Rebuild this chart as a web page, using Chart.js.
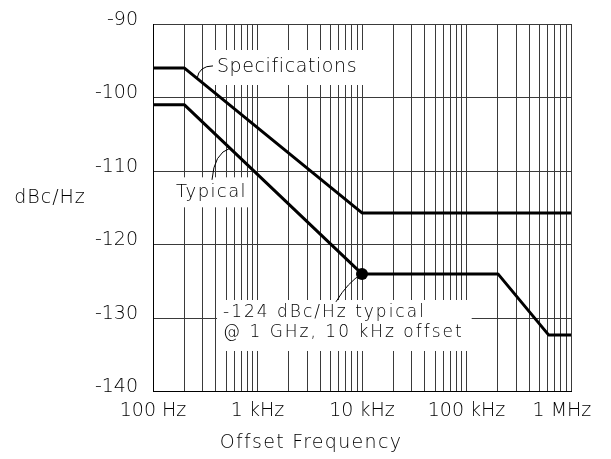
<!DOCTYPE html>
<html><head><meta charset="utf-8">
<script src="https://cdn.jsdelivr.net/npm/chart.js@4.4.1/dist/chart.umd.min.js"></script>
<style>html,body{margin:0;padding:0;background:#fff}#wrap{width:611px;height:459px}</style>
</head><body><div id="wrap"><canvas id="c" width="611" height="459"></canvas></div>
<script>
// ---- data ----
const specFreq = [100, 200, 10000, 1000000];
const specDb   = [-96, -96, -115.7, -115.7];
const typFreq  = [100, 200, 10000, 200000, 610000, 1000000];
const typDb    = [-101, -101, -124, -124, -132.3, -132.3];
const markerFreq = [10000];
const markerDb   = [-124];
const decades = [100, 1000, 10000, 100000, 1000000];
const decadeLabels = ['100 Hz', '1 kHz', '10 kHz', '100 kHz', '1 MHz\u00a0\u00a0\u00a0'];
const yTicks = [-140, -130, -120, -110, -100, -90];
const yTitle = 'dBc/Hz';
const xTitle = 'Offset Frequency';
const specText = 'Specifications';
const typText = 'Typical';
const noteLines = ['-124 dBc/Hz typical', '@ 1 GHz, 10 kHz offset'];

// ---- build ----
const FONT = "'DejaVu Sans', sans-serif";
const W = '200';
const xGrid = [];
decades.forEach((d, i) => {
  if (i < decades.length - 1) { for (let m = 1; m <= 9; m++) xGrid.push(d * m); }
  else xGrid.push(d);
});
const xLabelMap = {};
decades.forEach((d, i) => xLabelMap[d] = decadeLabels[i]);
const toXY = (xs, ys) => xs.map((x, i) => ({x, y: ys[i]}));

const annotCfg = {
  spec: {text: specText, f: 409, db: -95.85, size: 19, ls: 0.6, padX: 6, up: 17, down: 18,
         leader: {f0: 264, db0: -97.4, f1: 375, db1: -95.7}},
  typ: {text: typText, f: 166, db: -112.9, size: 18, ls: 1.4, padX: 4, up: 15, down: 15,
         leader: {f0: 367, db0: -111.2, f1: 546, db1: -106.9}},
  note: {f: 468, db1: -129.25, db2: -131.97, size: 17, ls: 2,
         leader: {f0: 10000, db0: -124, f1: 5636, db1: -127.8}}
};
const fnt = (s) => `${W} ${s}px ${FONT}`;

const annotPlugin = {
  id: 'annot',
  beforeDatasetsDraw(chart) {
    const ctx = chart.ctx, xs = chart.scales.x, ys = chart.scales.y;
    ctx.save();
    ctx.fillStyle = '#fff';
    let a = annotCfg.spec;
    ctx.font = fnt(a.size); ctx.letterSpacing = a.ls + 'px';
    let x = xs.getPixelForValue(a.f), y = ys.getPixelForValue(a.db);
    let w = ctx.measureText(a.text).width;
    ctx.fillRect(x - a.padX, y - a.up, w + 2 * a.padX, a.up + a.down);
    a = annotCfg.typ;
    ctx.font = fnt(a.size); ctx.letterSpacing = a.ls + 'px';
    x = xs.getPixelForValue(a.f); y = ys.getPixelForValue(a.db);
    w = ctx.measureText(a.text).width;
    ctx.fillRect(x - a.padX, y - a.up, w + 2 * a.padX, a.up + a.down);
    a = annotCfg.note;
    ctx.font = fnt(a.size); ctx.letterSpacing = a.ls + 'px';
    x = xs.getPixelForValue(a.f);
    const y1 = ys.getPixelForValue(a.db1), y2 = ys.getPixelForValue(a.db2);
    w = Math.max(...noteLines.map(t => ctx.measureText(t).width));
    ctx.fillRect(x - 6, y1 - 12.5, w + 14, (y2 - y1) + 31);
    ctx.restore();
  },
  afterDatasetsDraw(chart) {
    const ctx = chart.ctx, xs = chart.scales.x, ys = chart.scales.y;
    ctx.save();
    ctx.fillStyle = '#000'; ctx.strokeStyle = '#000'; ctx.lineWidth = 1;
    ctx.textBaseline = 'middle';
    const P = (f, db) => [xs.getPixelForValue(f), ys.getPixelForValue(db)];
    let L = annotCfg.spec.leader;
    let [ax, ay] = P(L.f0, L.db0), [bx, by] = P(L.f1, L.db1);
    ctx.beginPath(); ctx.moveTo(ax, ay); ctx.quadraticCurveTo(ax + 2, by, bx, by); ctx.stroke();
    L = annotCfg.typ.leader;
    [ax, ay] = P(L.f0, L.db0); [bx, by] = P(L.f1, L.db1);
    ctx.beginPath(); ctx.moveTo(ax, ay); ctx.quadraticCurveTo(ax + 2, by + 5, bx, by); ctx.stroke();
    L = annotCfg.note.leader;
    [ax, ay] = P(L.f0, L.db0); [bx, by] = P(L.f1, L.db1);
    ctx.beginPath(); ctx.moveTo(ax, ay); ctx.quadraticCurveTo(ax - 14, ay + 8, bx, by); ctx.stroke();
    ctx.textAlign = 'left';
    let a = annotCfg.spec;
    ctx.font = fnt(a.size); ctx.letterSpacing = a.ls + 'px';
    ctx.fillText(a.text, xs.getPixelForValue(a.f), ys.getPixelForValue(a.db));
    a = annotCfg.typ;
    ctx.font = fnt(a.size); ctx.letterSpacing = a.ls + 'px';
    ctx.fillText(a.text, xs.getPixelForValue(a.f), ys.getPixelForValue(a.db));
    a = annotCfg.note;
    ctx.font = fnt(a.size); ctx.letterSpacing = a.ls + 'px';
    ctx.fillText(noteLines[0], xs.getPixelForValue(a.f), ys.getPixelForValue(a.db1));
    ctx.fillText(noteLines[1], xs.getPixelForValue(a.f), ys.getPixelForValue(a.db2));
    ctx.textAlign = 'center';
    ctx.font = fnt(19); ctx.letterSpacing = '1px';
    ctx.fillText(yTitle, 50, (ys.top + ys.bottom) / 2 - 10);
    ctx.letterSpacing = '1.3px';
    ctx.fillText(xTitle, 311, 443);
    ctx.restore();
  }
};

new Chart(document.getElementById('c'), {
  type: 'scatter',
  data: {
    datasets: [
      {data: toXY(specFreq, specDb), showLine: true, borderColor: '#000', borderWidth: 3,
       pointRadius: 0, borderJoinStyle: 'round', fill: false},
      {data: toXY(typFreq, typDb), showLine: true, borderColor: '#000', borderWidth: 3,
       pointRadius: 0, borderJoinStyle: 'round', fill: false},
      {data: toXY(markerFreq, markerDb), showLine: false, pointRadius: 6,
       pointBackgroundColor: '#000', pointBorderColor: '#000', pointBorderWidth: 0}
    ]
  },
  options: {
    responsive: false, animation: false, devicePixelRatio: 1,
    layout: {padding: {top: 24, right: 40, left: 0, bottom: 0}},
    plugins: {legend: {display: false}, tooltip: {enabled: false}},
    scales: {
      x: {
        type: 'logarithmic', min: 100, max: 1000000,
        afterBuildTicks: s => { s.ticks = xGrid.map(v => ({value: v})); },
        afterFit: s => { s.height = 67.5; s.paddingLeft = 0; s.paddingRight = 0; },
        grid: {color: '#3a3a3a', lineWidth: 1, drawTicks: false},
        border: {display: true, color: '#000', width: 1},
        ticks: {autoSkip: false, maxRotation: 0, minRotation: 0, padding: 8, color: '#000',
                font: {family: FONT, size: 19, weight: W},
                callback: (v) => xLabelMap[v] || ''}
      },
      y: {
        type: 'linear', min: -140, max: -90,
        afterBuildTicks: s => { s.ticks = yTicks.map(v => ({value: v})); },
        afterFit: s => { s.width = 153; s.paddingTop = 0; s.paddingBottom = 0; },
        grid: {color: '#3a3a3a', lineWidth: 1, drawTicks: false},
        border: {display: true, color: '#000', width: 1},
        ticks: {padding: 15, labelOffset: -4, color: '#000', font: {family: FONT, size: 19, weight: W},
                callback: v => String(v)}
      }
    }
  },
  plugins: [annotPlugin]
});
</script>
</body></html>
